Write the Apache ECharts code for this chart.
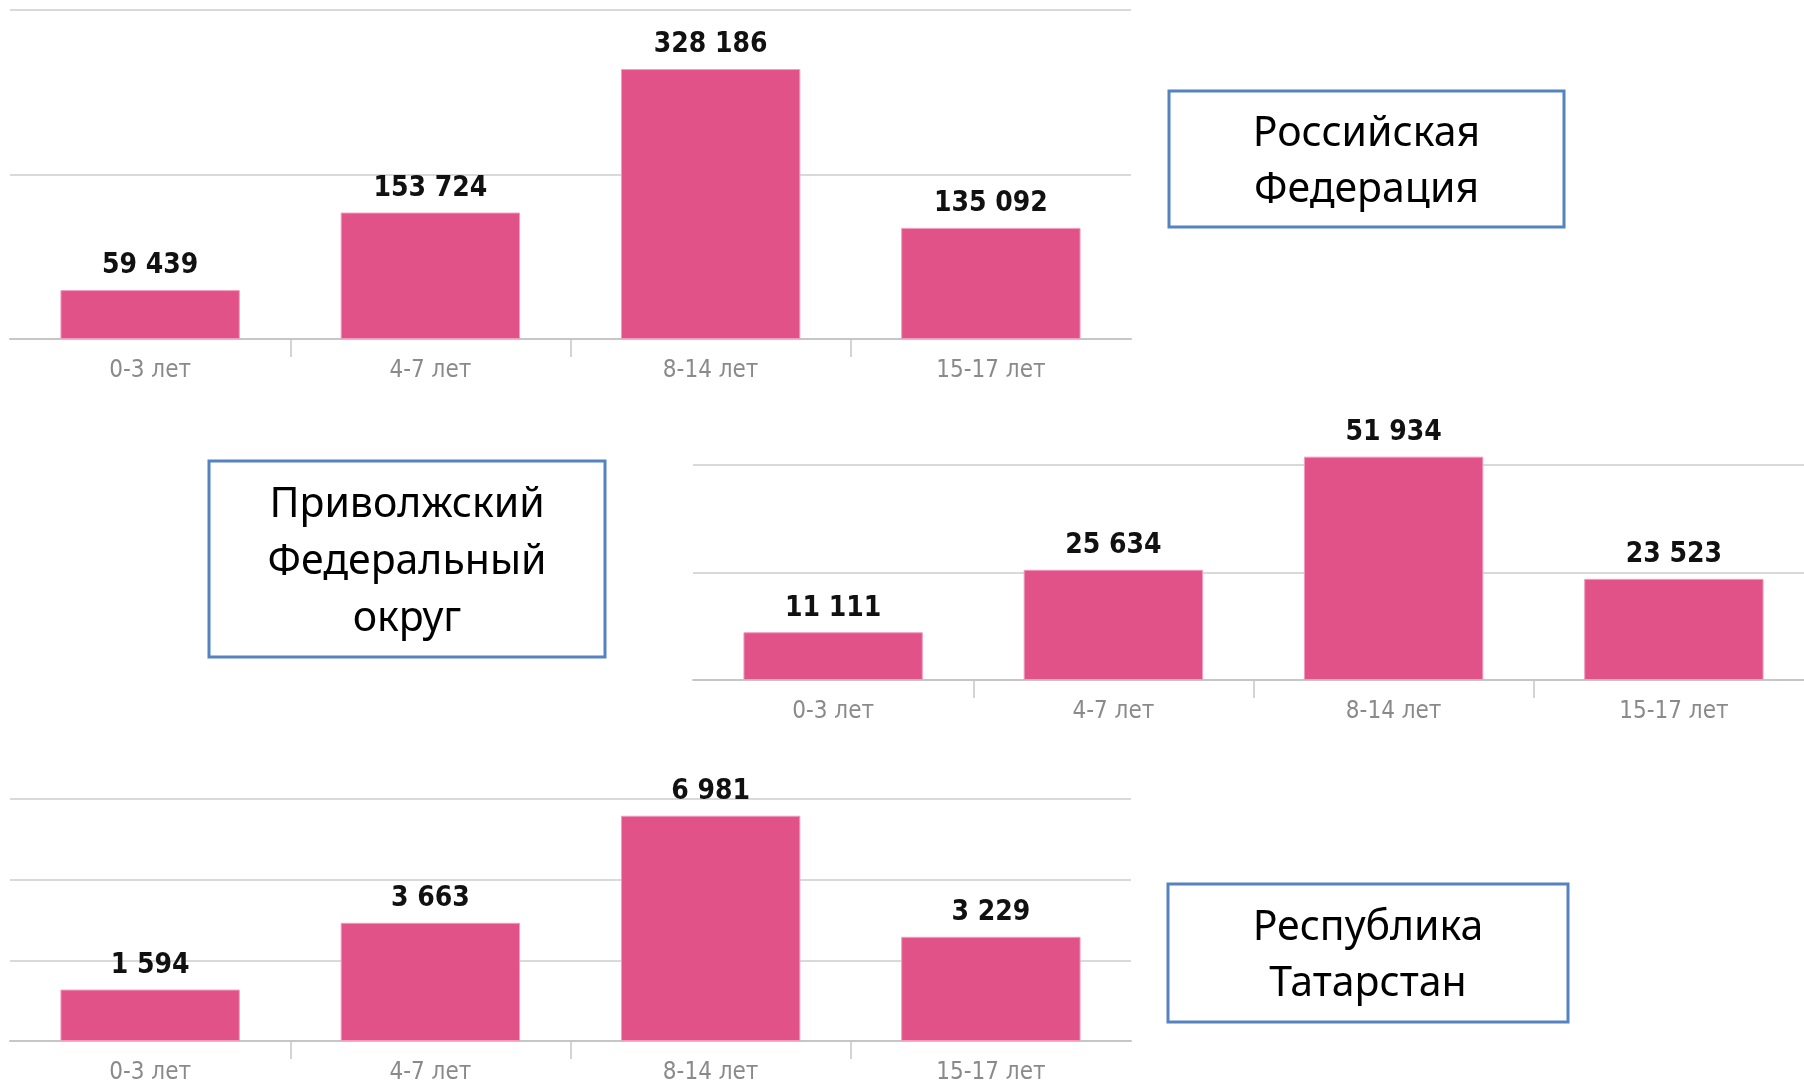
<!DOCTYPE html>
<html>
<head>
<meta charset="utf-8">
<script src="https://cdn.jsdelivr.net/npm/echarts@6/dist/echarts.min.js"></script>
<style>
  html, body { margin: 0; padding: 0; background: #fff; }
  #main { width: 1804px; height: 1084px; }
</style>
</head>
<body>
<div id="main"></div>
<script>
var ageGroups = ['0-3 лет', '4-7 лет', '8-14 лет', '15-17 лет'];
var russia = [59439, 153724, 328186, 135092];
var volga = [11111, 25634, 51934, 23523];
var tatarstan = [1594, 3663, 6981, 3229];
var regionTitles = ['Российская\nФедерация', 'Приволжский\nФедеральный\nокруг', 'Республика\nТатарстан'];

var narrow = "'Liberation Sans Narrow', 'DejaVu Sans Condensed', sans-serif";
var barColor = '#e15288';

var dom = document.getElementById('main');
var myChart = echarts.init(dom);

function fmt(p) {
    return String(p.value).replace(/\B(?=(\d{3})+(?!\d))/g, ' ');
}

// the middle grid runs a little past the right edge of the page, as in the picture
var grids = [
    {left: 10, top: 10, width: 1121, height: 329, outerBoundsMode: 'none'},
    {left: 693, top: 465, width: 1121, height: 215, outerBoundsMode: 'none'},
    {left: 10, top: 799, width: 1121, height: 242, outerBoundsMode: 'none'}
];
var axisMax = [400000, 50000, 7500];
var axisStep = [200000, 25000, 2500];
var seriesData = [russia, volga, tatarstan];

var xAxes = [], yAxes = [], series = [];
grids.forEach(function (g, i) {
    // main category axis: line + labels
    xAxes.push({
        type: 'category',
        gridIndex: i,
        position: 'bottom',
        data: ageGroups,
        axisLine: {lineStyle: {color: '#c6c6c6', width: 2}},
        axisTick: {show: false},
        axisLabel: {
            color: '#8a8a8a',
            fontFamily: narrow,
            fontSize: 24,
            lineHeight: 26,
            margin: 19
        }
    });
    // helper axis only for the ticks between categories
    xAxes.push({
        type: 'category',
        gridIndex: i,
        position: 'bottom',
        boundaryGap: false,
        data: ['', '', '', '', ''],
        axisLine: {show: false},
        axisLabel: {show: false},
        axisTick: {
            length: 18,
            lineStyle: {color: '#c6c6c6', width: 1.5},
            interval: function (idx) { return idx > 0 && idx < 4; }
        }
    });
    yAxes.push({
        type: 'value',
        gridIndex: i,
        min: 0,
        max: axisMax[i],
        interval: axisStep[i],
        axisLine: {show: false},
        axisTick: {show: false},
        axisLabel: {show: false},
        splitLine: {lineStyle: {color: '#d9d9d9', width: 2}}
    });
    series.push({
        type: 'bar',
        xAxisIndex: i * 2,
        yAxisIndex: i,
        data: seriesData[i],
        barCategoryGap: '36%',
        clip: false,
        itemStyle: {color: barColor, borderColor: '#f29bbd', borderWidth: 1},
        label: {
            show: true,
            position: 'top',
            distance: 9,
            formatter: fmt,
            color: '#111',
            fontWeight: 'bold',
            fontFamily: narrow,
            fontSize: 28,
            lineHeight: 30
        }
    });
});

function box(x, y, w, h, text, lh) {
    return {
        type: 'group',
        children: [{
            type: 'rect',
            shape: {x: x, y: y, width: w, height: h},
            style: {fill: '#fff', stroke: '#5582c0', lineWidth: 3}
        }, {
            type: 'text',
            x: x + w / 2,
            y: y + h / 2 + 3,
            style: {
                text: text,
                fill: '#000',
                font: "41px 'Noto Sans', 'Open Sans', sans-serif",
                lineHeight: lh,
                align: 'center',
                verticalAlign: 'middle'
            }
        }]
    };
}

var option = {
    backgroundColor: '#fff',
    animation: false,
    grid: grids,
    xAxis: xAxes,
    yAxis: yAxes,
    series: series,
    graphic: [
        box(1169, 91, 395, 136, regionTitles[0], 56),
        box(209, 461, 396, 196, regionTitles[1], 57),
        box(1168, 884, 400, 138, regionTitles[2], 56)
    ]
};
myChart.setOption(option);
</script>
</body>
</html>
